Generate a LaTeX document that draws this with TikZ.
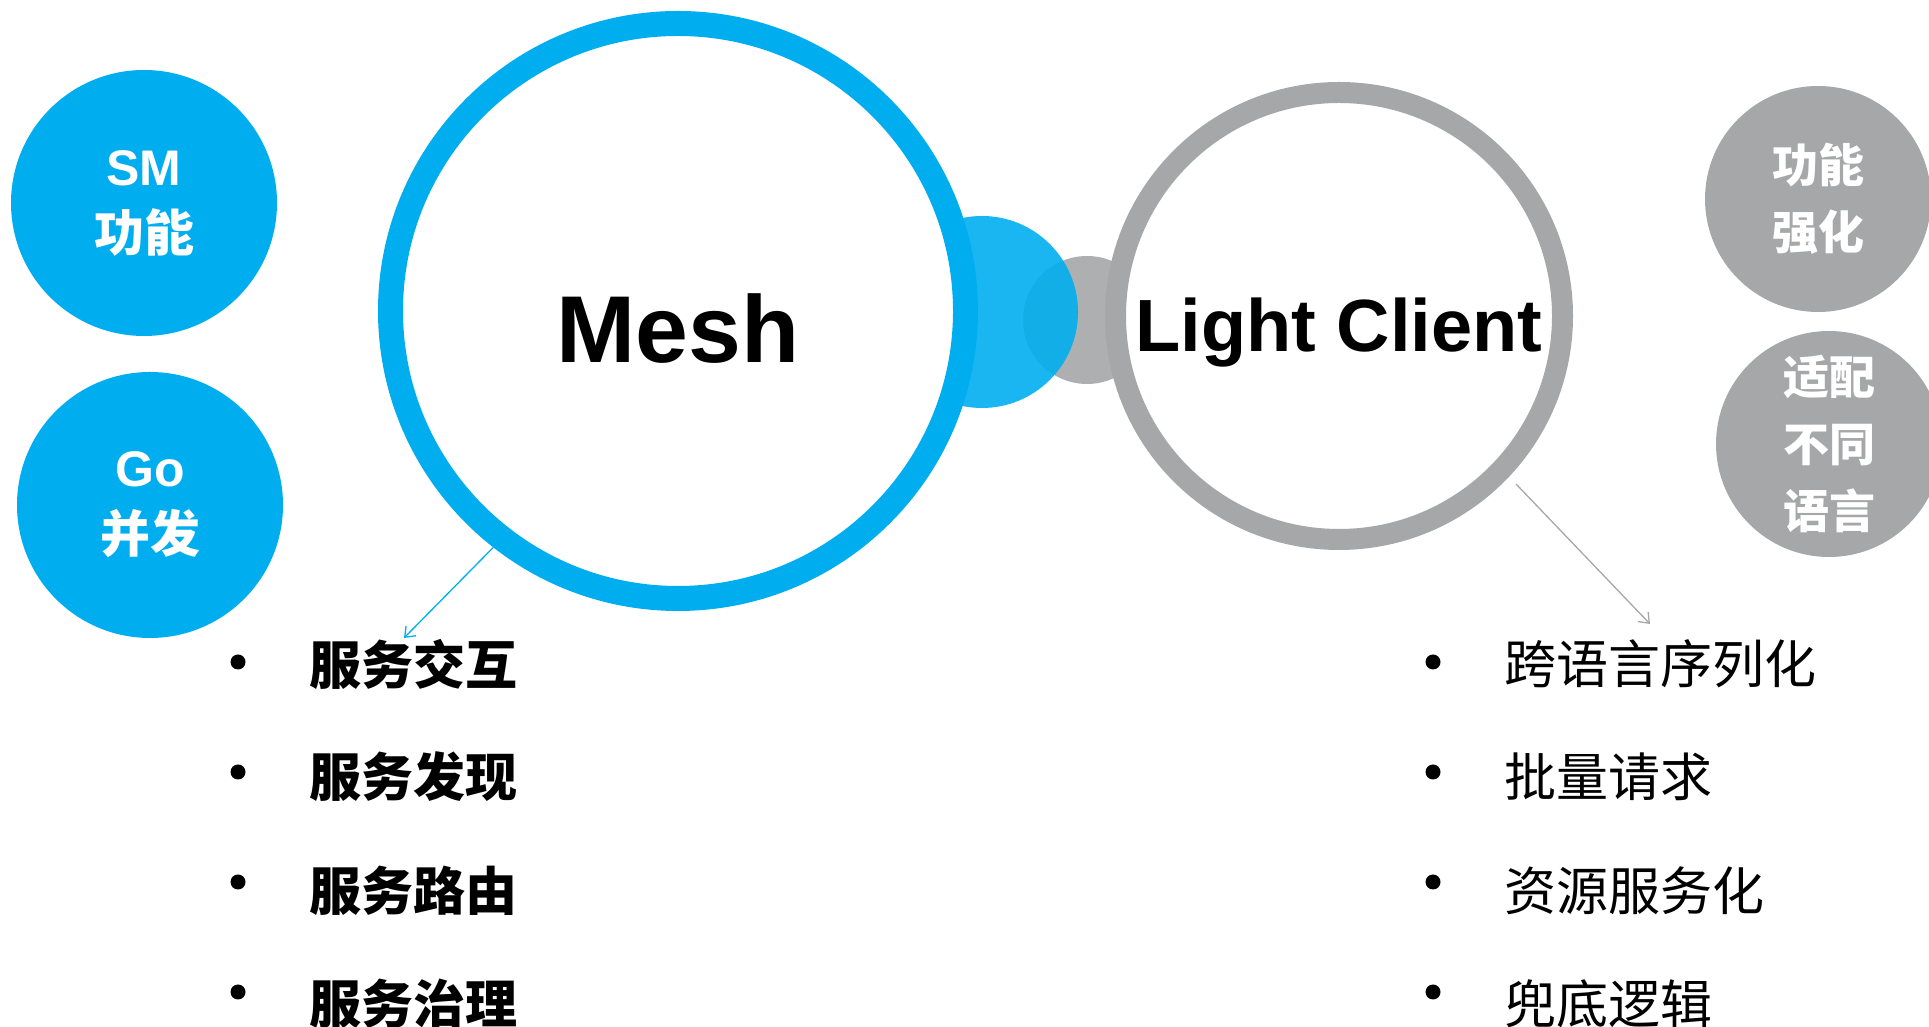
\documentclass[tikz,border=0pt]{standalone}
\usepackage{fontspec}
\setmainfont{Liberation Sans}
\newfontfamily\cjk{Noto Sans CJK SC}
\usetikzlibrary{arrows.meta,positioning}
\definecolor{meshblue}{HTML}{00AEEF}
\definecolor{clientgrey}{HTML}{A6A7A9}
\definecolor{smallgrey}{HTML}{AEAFB1}

\tikzset{
  bluedisc/.style={circle,fill=meshblue,minimum size=266pt,inner sep=0pt,text=white,align=center,
    font=\cjk\bfseries\fontsize{50}{66}\selectfont},
  greydisc/.style={circle,fill=clientgrey,minimum size=226pt,inner sep=0pt,text=white,align=center,
    font=\cjk\bfseries\fontsize{46}{67}\selectfont},
  bulletdot/.style={circle,fill=black,minimum size=15pt,inner sep=0pt},
  leftitem/.style={anchor=west,inner sep=0pt,font=\cjk\bfseries\fontsize{52}{52}\selectfont},
  rightitem/.style={anchor=west,inner sep=0pt,font=\cjk\fontsize{52}{52}\selectfont},
  link/.style={-{Straight Barb[length=9pt,width=14pt]},line width=1.3pt}
}

\begin{document}
\begin{tikzpicture}[x=1pt,y=1pt]
    \useasboundingbox (0,0) rectangle (1929,1027);

    % small discs between the two rings
    \node[circle,fill=smallgrey,minimum size=128pt,inner sep=0pt] (greyjoint) at (1087,707) {};
    \node[circle,fill=meshblue,fill opacity=0.9,minimum size=192pt,inner sep=0pt] (bluejoint) at (982,715) {};

    % the two rings
    \node[circle,draw=meshblue,line width=25pt,fill=white,minimum size=575pt,inner sep=0pt] (mesh) at (678,716) {};
    \node[circle,draw=clientgrey,line width=21pt,fill=white,minimum size=447pt,inner sep=0pt] (client) at (1339,711) {};
    \node[anchor=base,inner sep=0pt,font=\bfseries\fontsize{95}{95}\selectfont] (meshlabel) at (678,664) {Mesh};
    \node[anchor=base,inner sep=0pt,font=\bfseries\fontsize{74}{74}\selectfont] (clientlabel) at (1339,675) {Light Client};

    % side discs
    \node[bluedisc] (sm) at (144,824) {{\rmfamily\bfseries\fontsize{50}{66}\selectfont SM}\\功能};
    \node[bluedisc] (go) at (150,522) {{\rmfamily\bfseries\fontsize{50}{66}\selectfont Go}\\并发};
    \node[greydisc] (enhance) at (1818,828) {功能\\强化};
    \node[greydisc] (adapt) at (1829,583) {适配\\不同\\语言};

    % left list
    \node[bulletdot] (ldot1) at (238,365) {};
    \node[bulletdot] (ldot2) at (238,255) {};
    \node[bulletdot] (ldot3) at (238,145) {};
    \node[bulletdot] (ldot4) at (238,35) {};
    \node[leftitem] (litem1) at (309,363) {服务交互};
    \node[leftitem] (litem2) at (309,250) {服务发现};
    \node[leftitem] (litem3) at (309,136) {服务路由};
    \node[leftitem] (litem4) at (309,23) {服务治理};

    % right list
    \node[bulletdot] (rdot1) at (1433,365) {};
    \node[bulletdot] (rdot2) at (1433,255) {};
    \node[bulletdot] (rdot3) at (1433,145) {};
    \node[bulletdot] (rdot4) at (1433,35) {};
    \node[rightitem] (ritem1) at (1504,363) {跨语言序列化};
    \node[rightitem] (ritem2) at (1504,250) {批量请求};
    \node[rightitem] (ritem3) at (1504,136) {资源服务化};
    \node[rightitem] (ritem4) at (1504,23) {兜底逻辑};

    % pointers
    \coordinate (meshtip) at (404,389);
    \coordinate (clientfoot) at (1516,543);
    \coordinate (clienttip) at (1650,403);
    \draw[link,meshblue] (mesh.232) -- (meshtip);
    \draw[link,clientgrey] (clientfoot) -- (clienttip);
\end{tikzpicture}
\end{document}
